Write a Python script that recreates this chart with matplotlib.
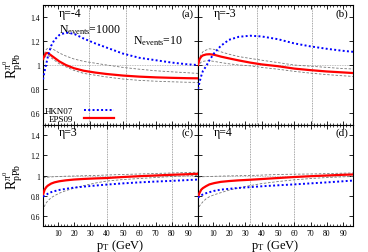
import matplotlib
matplotlib.use("Agg")
import matplotlib.pyplot as plt
from matplotlib.ticker import MultipleLocator
from matplotlib.lines import Line2D

plt.rcParams['font.family'] = ['Liberation Serif', 'DejaVu Serif']
plt.rcParams['mathtext.fontset'] = 'custom'
plt.rcParams['mathtext.rm'] = 'Liberation Serif'
plt.rcParams['mathtext.it'] = 'Liberation Serif:italic'

pt = [1, 2, 3, 4, 6, 8, 11, 15, 20, 26, 33, 40, 50, 60, 70, 80, 90, 96]

# panel (a) eta=-4
a_hkn = [0.88, 0.95, 1.01, 1.07, 1.16, 1.21, 1.25, 1.27, 1.26, 1.22, 1.18, 1.145, 1.095, 1.06, 1.04, 1.02, 1.005, 1.0]
a_eps = [1.05, 1.08, 1.1, 1.1, 1.08, 1.06, 1.03, 1.0, 0.973, 0.952, 0.937, 0.925, 0.912, 0.903, 0.897, 0.893, 0.89, 0.889]
a_up = [1.06, 1.1, 1.13, 1.14, 1.14, 1.125, 1.1, 1.075, 1.05, 1.03, 1.015, 1.0, 0.98, 0.965, 0.952, 0.943, 0.935, 0.93]
a_lo = [1.03, 1.06, 1.08, 1.08, 1.06, 1.04, 1.01, 0.985, 0.955, 0.93, 0.915, 0.9, 0.883, 0.872, 0.865, 0.86, 0.856, 0.855]

# panel (b) eta=-3
b_hkn = [0.8, 0.86, 0.91, 0.95, 0.99, 1.04, 1.1, 1.16, 1.21, 1.235, 1.244, 1.238, 1.215, 1.18, 1.155, 1.135, 1.118, 1.11]
b_eps = [1.0, 1.05, 1.07, 1.08, 1.088, 1.09, 1.085, 1.07, 1.055, 1.038, 1.02, 1.005, 0.99, 0.97, 0.957, 0.946, 0.938, 0.933]
b_up = [1.0, 1.06, 1.09, 1.11, 1.125, 1.135, 1.13, 1.11, 1.09, 1.07, 1.055, 1.04, 1.02, 1.0, 0.99, 0.98, 0.97, 0.967]
b_lo = [0.98, 1.01, 1.025, 1.03, 1.035, 1.035, 1.03, 1.02, 1.01, 1.0, 0.993, 0.98, 0.965, 0.947, 0.932, 0.92, 0.91, 0.905]

# panel (c) eta=3
c_hkn = [0.79, 0.8, 0.81, 0.82, 0.835, 0.845, 0.857, 0.868, 0.88, 0.89, 0.9, 0.91, 0.922, 0.932, 0.94, 0.947, 0.955, 0.96]
c_eps = [0.81, 0.86, 0.885, 0.9, 0.92, 0.932, 0.943, 0.952, 0.96, 0.966, 0.971, 0.975, 0.985, 0.993, 1.0, 1.007, 1.013, 1.017]
c_up = [0.975, 0.979, 0.982, 0.984, 0.986, 0.988, 0.99, 0.993, 0.995, 0.998, 1.0, 1.005, 1.01, 1.015, 1.02, 1.025, 1.03, 1.032]
c_lo = [0.65, 0.7, 0.73, 0.75, 0.78, 0.8, 0.825, 0.85, 0.875, 0.9, 0.925, 0.945, 0.96, 0.97, 0.98, 0.99, 0.997, 1.0]

# panel (d) eta=4
d_hkn = [0.78, 0.795, 0.805, 0.812, 0.825, 0.835, 0.848, 0.86, 0.868, 0.877, 0.885, 0.893, 0.903, 0.912, 0.922, 0.932, 0.943, 0.95]
d_eps = [0.79, 0.83, 0.86, 0.875, 0.895, 0.912, 0.925, 0.937, 0.945, 0.952, 0.958, 0.965, 0.975, 0.985, 0.993, 1.0, 1.007, 1.01]
d_up = [0.985, 0.986, 0.987, 0.988, 0.989, 0.99, 0.992, 0.994, 0.996, 0.998, 1.0, 1.004, 1.01, 1.013, 1.015, 1.019, 1.023, 1.025]
d_lo = [0.65, 0.7, 0.72, 0.74, 0.77, 0.79, 0.81, 0.83, 0.855, 0.878, 0.9, 0.92, 0.94, 0.957, 0.97, 0.98, 0.987, 0.99]

etas = ['η=-4', 'η=-3', 'η=3', 'η=4']
tags = ['(a)', '(b)', '(c)', '(d)']
vlines = [[29, 52], [37, 71], [40, 80], [33, 60]]
series = [(a_hkn, a_eps, a_up, a_lo), (b_hkn, b_eps, b_up, b_lo),
          (c_hkn, c_eps, c_up, c_lo), (d_hkn, d_eps, d_up, d_lo)]

fig = plt.figure(figsize=(3.68, 2.53), dpi=100)
gs = fig.add_gridspec(2, 2, left=43/368, right=353/368, top=1-6/253, bottom=1-227/253,
                      hspace=0, wspace=0, height_ratios=[120, 101])
axes = [fig.add_subplot(gs[i // 2, i % 2]) for i in range(4)]

ylab = r'$\mathrm{R}^{\pi^{0}}_{\mathrm{pPb}}$'
for i, ax in enumerate(axes):
    hkn, eps, up, lo = series[i]
    ax.axhline(1.0, color='#aaaaaa', lw=0.6, ls=(0, (1, 1)), zorder=1)
    for v in vlines[i]:
        ax.axvline(v, color='#888888', lw=0.6, ls=(0, (1, 1)), zorder=1)
    ax.plot(pt, up, color='#777777', lw=0.6, ls=(0, (3, 2)), zorder=2)
    ax.plot(pt, lo, color='#777777', lw=0.6, ls=(0, (3, 2)), zorder=2)
    ax.plot(pt, eps, color='#ff0000', lw=1.6, zorder=3)
    ax.plot(pt, hkn, color='#0000ff', lw=1.4, ls=(0, (1, 1.2)), zorder=4)
    ax.set_xlim(1, 96)
    ax.set_ylim(0.5, 1.5)
    ax.xaxis.set_major_locator(MultipleLocator(10))
    ax.xaxis.set_minor_locator(MultipleLocator(2))
    ax.yaxis.set_major_locator(MultipleLocator(0.2))
    ax.tick_params(which='both', direction='in', top=True, right=True, labelsize=5.5, pad=2)
    ax.tick_params(which='major', length=3, width=0.6)
    ax.tick_params(which='minor', length=1.5, width=0.5)
    for s in ax.spines.values():
        s.set_linewidth(0.8)
    ax.set_yticks([0.6, 0.8, 1.0, 1.2, 1.4])
    ax.set_yticklabels(['0.6', '0.8', '1', '1.2', '1.4'])
    ax.set_xticks(range(10, 100, 10))
    if i < 2:
        ax.tick_params(labelbottom=False)
    else:
        ax.set_xlabel(r'$\mathrm{p}_{\mathrm{T}}$ (GeV)', fontsize=9, labelpad=0)
    if i % 2 == 1:
        ax.tick_params(labelleft=False)
    else:
        ax.set_ylabel(ylab, fontsize=10, labelpad=5)
    ax.text(0.1, 0.93, etas[i], transform=ax.transAxes, fontsize=8.5, va='center', ha='left')
    ax.text(0.97, 0.93, tags[i], transform=ax.transAxes, fontsize=8, va='center', ha='right')

axes[0].text(11, 1.3, r'N$_{\mathrm{events}}$=1000', fontsize=8.5, va='center', ha='left')
axes[0].text(56, 1.21, r'N$_{\mathrm{events}}$=10', fontsize=8.5, va='center', ha='left')

handles = [Line2D([], [], color='#0000ff', lw=1.4, ls=(0, (1, 1.2))),
           Line2D([], [], color='#ff0000', lw=1.6)]
axes[0].legend(handles, ['HKN07', 'EPS09'], loc='lower left', bbox_to_anchor=(-0.03, -0.04),
               frameon=False, markerfirst=False, fontsize=6.5, handlelength=3.3,
               handletextpad=1.2, labelspacing=0.05, borderpad=0.2)

fig.savefig('out.png', dpi=100)
